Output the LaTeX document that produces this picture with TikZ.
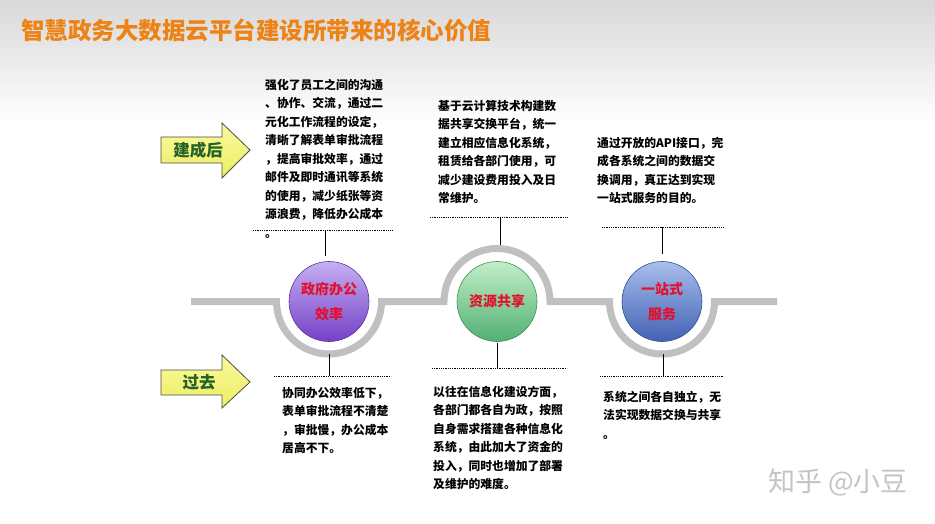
\documentclass[tikz,border=0pt]{standalone}
\usepackage{fontspec}
\newfontfamily\cjk{Noto Sans CJK SC}
\definecolor{titleor}{HTML}{EE8214}
\definecolor{bgtop}{HTML}{D8D8D8}
\definecolor{trackgray}{HTML}{C0C0C0}
\definecolor{ballred}{HTML}{E2102A}
\definecolor{arrowgreen}{HTML}{24622A}
\definecolor{arrowtop}{HTML}{FAFA9E}
\definecolor{arrowbot}{HTML}{EDED62}
\definecolor{purtop}{HTML}{C6B0F4}
\definecolor{purmid}{HTML}{A47AEA}
\definecolor{purbot}{HTML}{7440C6}
\definecolor{grntop}{HTML}{C2EEC8}
\definecolor{grnmid}{HTML}{92DCA4}
\definecolor{grnbot}{HTML}{52B072}
\definecolor{blutop}{HTML}{A8BEEC}
\definecolor{blumid}{HTML}{86A2E0}
\definecolor{blubot}{HTML}{4262B4}
\definecolor{wmgray}{HTML}{C4C4C4}
\begin{document}
\begin{tikzpicture}[x=1pt,y=1pt,
  bodytext/.style={font=\cjk\bfseries\fontsize{11.8}{18.5}\selectfont, anchor=north west, inner sep=0pt, align=left, text=black},
  dotline/.style={black, line width=0.7pt, dash pattern=on 0.7pt off 1.1pt},
  conn/.style={black, line width=0.9pt},
  track/.style={trackgray, line width=7pt},
  ball/.style={circle, minimum size=80pt, inner sep=0pt, align=center, font=\cjk\bfseries\fontsize{14}{25}\selectfont, text=ballred},
  blockarrow/.style={draw=black!70, line width=0.8pt, top color=arrowtop, bottom color=arrowbot, line join=miter},
  arrowlabel/.style={font=\cjk\bfseries\fontsize{16.5}{18}\selectfont, text=arrowgreen, inner sep=0pt}
]
\useasboundingbox (0,0) rectangle (935,523);
\fill[white] (0,0) rectangle (935,523);
\shade[top color=bgtop, bottom color=white] (0,400) rectangle (935,523);

% title
\node[anchor=west, inner sep=0pt, font=\cjk\bfseries\fontsize{23.5}{26}\selectfont, text=titleor] (title) at (21,493) {智慧政务大数据云平台建设所带来的核心价值};

% track with rings
\draw[track] (191,221.5) -- (276.5,221.5) arc[start angle=180,end angle=360,radius=52.5]
  -- (444,221.5) arc[start angle=180,end angle=0,radius=53]
  -- (609.5,221.5) arc[start angle=180,end angle=360,radius=52.5] -- (777,221.5);

% balls
\node[ball, top color=purtop, middle color=purmid, bottom color=purbot, draw=purbot!80!black, line width=0.6pt] (c1) at (329,221.5) {政府办公\\效率};
\node[ball, top color=grntop, middle color=grnmid, bottom color=grnbot, draw=grnbot!80!black, line width=0.6pt] (c2) at (497,221.5) {资源共享};
\node[ball, top color=blutop, middle color=blumid, bottom color=blubot, draw=blubot!80!black, line width=0.6pt] (c3) at (662,221.5) {一站式\\服务};

% block arrows
\path[blockarrow] (161,386) -- (222,386) -- (222,400) -- (250,373) -- (222,345) -- (222,360) -- (161,360) -- cycle;
\node[arrowlabel] (after) at (198,373) {建成后};
\path[blockarrow] (161,153) -- (222,153) -- (222,168) -- (250,141) -- (222,115) -- (222,128) -- (161,128) -- cycle;
\node[arrowlabel] (before) at (199,141) {过去};

% top texts
\node[bodytext] (t1) at (265,444) {强化了员工之间的沟通\\、协作、交流，通过二\\元化工作流程的设定，\\清晰了解表单审批流程\\，提高审批效率，通过\\邮件及即时通讯等系统\\的使用，减少纸张等资\\源浪费，降低办公成本\\。};
\node[bodytext] (t2) at (438,423) {基于云计算技术构建数\\据共享交换平台，统一\\建立相应信息化系统，\\租赁给各部门使用，可\\减少建设费用投入及日\\常维护。};
\node[bodytext] (t3) at (597,386) {通过开放的API接口，完\\成各系统之间的数据交\\换调用，真正达到实现\\一站式服务的目的。};

% bottom texts
\node[bodytext] (b1) at (282,136) {协同办公效率低下，\\表单审批流程不清楚\\，审批慢，办公成本\\居高不下。};
\node[bodytext] (b2) at (433,137) {以往在信息化建设方面，\\各部门都各自为政，按照\\自身需求搭建各种信息化\\系统，由此加大了资金的\\投入，同时也增加了部署\\及维护的难度。};
\node[bodytext] (b3) at (603,132) {系统之间各自独立，无\\法实现数据交换与共享\\。};

% dotted rules
\coordinate (d1l) at (253,293); \coordinate (d1r) at (392,293);
\coordinate (d2l) at (430,306); \coordinate (d2r) at (567,306);
\coordinate (d3l) at (602,296); \coordinate (d3r) at (723,296);
\coordinate (e1l) at (274,147); \coordinate (e1r) at (391,147);
\coordinate (e2l) at (432,155); \coordinate (e2r) at (567,155);
\coordinate (e3l) at (600,147); \coordinate (e3r) at (723,147);
\draw[dotline] (d1l) -- (d1r);
\draw[dotline] (d2l) -- (d2r);
\draw[dotline] (d3l) -- (d3r);
\draw[dotline] (e1l) -- (e1r);
\draw[dotline] (e2l) -- (e2r);
\draw[dotline] (e3l) -- (e3r);

% connectors
\coordinate (k1a) at (325,293); \coordinate (k1b) at (325,267);
\coordinate (k2a) at (500,306); \coordinate (k2b) at (500,278);
\coordinate (k3a) at (662,296); \coordinate (k3b) at (662,269);
\coordinate (m1a) at (329,169); \coordinate (m1b) at (329,147);
\coordinate (m2a) at (497,180); \coordinate (m2b) at (497,155);
\coordinate (m3a) at (663,169); \coordinate (m3b) at (663,147);
\draw[conn] (k1a) -- (k1b);
\draw[conn] (k2a) -- (k2b);
\draw[conn] (k3a) -- (k3b);
\draw[conn] (m1a) -- (m1b);
\draw[conn] (m2a) -- (m2b);
\draw[conn] (m3a) -- (m3b);

% watermark
\node[font=\cjk\fontsize{27}{30}\selectfont, text=wmgray, inner sep=0pt] (wm) at (838,41) {知乎 @小豆};
\end{tikzpicture}
\end{document}
